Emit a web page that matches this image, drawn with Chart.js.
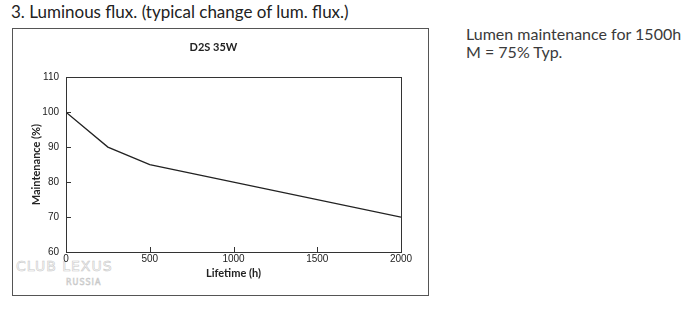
<!DOCTYPE html>
<html>
<head>
<meta charset="utf-8">
<script src="https://cdn.jsdelivr.net/npm/chart.js@4"></script>
<style>
  body { margin: 0; background: #fff; width: 700px; height: 311px; overflow: hidden; position: relative; font-family: Lato, "Open Sans", sans-serif; }
  #head { position: absolute; left: 11px; top: 1px; font-size: 17px; color: #222; white-space: nowrap; }
  #note { position: absolute; left: 466px; top: 25px; font-size: 16px; line-height: 18px; color: #3a3a3a; white-space: nowrap; }
  #box { position: absolute; left: 12px; top: 28px; width: 415px; height: 266px; border: 1px solid #555; }
  #wm1, #wm2 { position: absolute; color: #fff; -webkit-text-stroke: 0.6px #c8c8c8; font-family: "DejaVu Sans", sans-serif; letter-spacing: 1px; }
  #wm1 { left: 16px; top: 258px; font-size: 14px; }
  #wm2 { left: 66px; top: 278px; font-size: 8px; }
  canvas { position: absolute; left: 0; top: 0; }
</style>
</head>
<body>
<div id="head">3. Luminous flux. (typical change of lum. flux.)</div>
<div id="note">Lumen maintenance for 1500h<br>M = 75% Typ.</div>
<div id="box"></div>
<div id="wm1">CLUB LEXUS</div>
<div id="wm2">RUSSIA</div>
<canvas id="chart" width="700" height="311"></canvas>
<script>
const hours = [0, 250, 500, 2000];
const maintenance = [100, 90, 85, 70];
const chartTitle = 'D2S 35W';
const xLabel = 'Lifetime (h)';
const yLabel = 'Maintenance (%)';

// frame round the plot and short ticks pointing inwards
const frame = {
  id: 'frame',
  afterDraw(chart) {
    let ctx = chart.ctx, a = chart.chartArea;
    let x = chart.scales.x, y = chart.scales.y;
    ctx.save();
    ctx.strokeStyle = '#333';
    ctx.lineWidth = 1;
    ctx.strokeRect(Math.round(a.left) + 0.5, Math.round(a.top) + 0.5, Math.round(a.right - a.left), Math.round(a.bottom - a.top));
    ctx.beginPath();
    x.ticks.forEach(t => {
      let px = Math.round(x.getPixelForValue(t.value)) + 0.5;
      ctx.moveTo(px, a.bottom); ctx.lineTo(px, a.bottom - 5);
    });
    y.ticks.forEach(t => {
      let py = Math.round(y.getPixelForValue(t.value)) + 0.5;
      ctx.moveTo(a.left, py); ctx.lineTo(a.left + 5, py);
    });
    ctx.stroke();
    ctx.restore();
  }
};

const tickFont = { family: 'Liberation Sans', size: 10 };
const titleFont = { family: 'Lato', size: 11, weight: 'bold' };

new Chart(document.getElementById('chart'), {
  type: 'line',
  data: {
    datasets: [{
      data: hours.map((h, i) => ({ x: h, y: maintenance[i] })),
      borderColor: '#222',
      borderWidth: 1.3,
      pointRadius: 0,
      tension: 0,
      fill: false
    }]
  },
  options: {
    responsive: false,
    animation: false,
    layout: { padding: { left: 26, right: 299, top: 40, bottom: 27 } },
    plugins: {
      legend: { display: false },
      tooltip: { enabled: false },
      title: {
        display: true,
        text: chartTitle,
        color: '#222',
        font: { family: 'Lato', size: 11 },
        padding: { top: 1, bottom: 23 }
      }
    },
    scales: {
      x: {
        type: 'linear',
        min: 0, max: 2000,
        afterFit: s => { s.height = 32; },
        ticks: { stepSize: 500, color: '#222', font: tickFont, padding: 1, maxRotation: 0, callback: v => String(v) },
        grid: { display: false, drawTicks: false },
        border: { display: false },
        title: { display: true, text: xLabel, color: '#222', font: titleFont, padding: { top: 2, bottom: 4 } }
      },
      y: {
        min: 60, max: 110,
        afterFit: s => { s.width = 40; },
        ticks: { stepSize: 10, color: '#222', font: tickFont, padding: 7 },
        grid: { display: false, drawTicks: false },
        border: { display: false },
        title: { display: true, text: yLabel, color: '#222', font: titleFont, padding: { top: 4, bottom: 4 } }
      }
    }
  },
  plugins: [frame]
});
</script>
</body>
</html>
